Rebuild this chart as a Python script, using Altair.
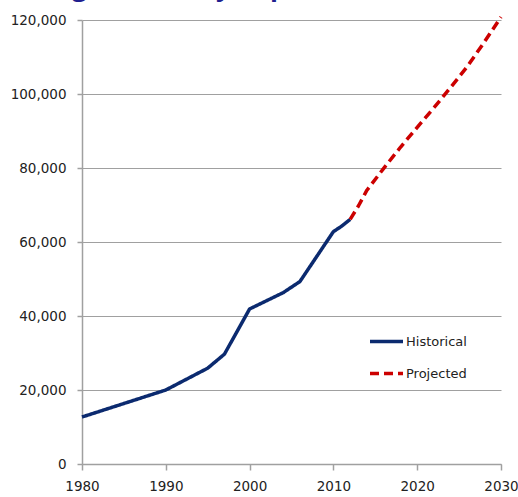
import altair as alt
import pandas as pd

# Historical series
hist_years = [1980, 1990, 1995, 1997, 2000, 2004, 2006, 2010, 2011, 2012]
hist_vals = [12700, 20000, 25900, 29700, 41900, 46300, 49300, 62800, 64300, 66100]

# Projected series
proj_years = [2012, 2013, 2014, 2016, 2018, 2020, 2022, 2024, 2026, 2028, 2030]
proj_vals = [66100, 69800, 74000, 79900, 85600, 91000, 96300, 101800, 107500, 114000, 120800]

series_names = ["Historical", "Projected"]
series_colors = ["#0b2a6f", "#cc0000"]

x_ticks = [1980, 1990, 2000, 2010, 2020, 2030]
y_ticks = [0, 20000, 40000, 60000, 80000, 100000, 120000]

title_text = "Washington County Population, 1980-2030"

df = pd.concat([
    pd.DataFrame({"year": hist_years, "value": hist_vals, "series": "Historical"}),
    pd.DataFrame({"year": proj_years, "value": proj_vals, "series": "Projected"}),
])

FONT = "DejaVu Sans"
AXIS_GRAY = "#a0a0a0"

lines = alt.Chart(df).mark_line(strokeWidth=3.5, strokeCap="butt", strokeJoin="round").encode(
    x=alt.X("year:Q", scale=alt.Scale(domain=[1980, 2030], nice=False, zero=False),
            axis=alt.Axis(values=x_ticks, format="d", title=None, grid=False,
                          tickSize=6, labelPadding=9, labelFlush=False)),
    y=alt.Y("value:Q", scale=alt.Scale(domain=[0, 120000], nice=False),
            axis=alt.Axis(values=y_ticks, format=",.0f", title=None, grid=True,
                          tickSize=5, labelPadding=11, labelFlush=False)),
    color=alt.Color("series:N", scale=alt.Scale(domain=series_names, range=series_colors),
                    legend=alt.Legend(title=None, orient="none", legendX=286, legendY=303,
                                      symbolType="stroke", symbolSize=1089,
                                      symbolStrokeWidth=3.5, labelFont=FONT,
                                      labelFontSize=13, labelColor="#222222",
                                      labelOffset=1, rowPadding=6, padding=0)),
    strokeDash=alt.StrokeDash("series:N",
                              scale=alt.Scale(domain=series_names, range=[[1, 0], [9, 5]]),
                              legend=None),
    detail="series:N",
)

title = alt.Chart(pd.DataFrame({"t": [title_text]})).mark_text(
    font="Open Sans", fontSize=26, fontWeight="bold", color="#1f1f8f",
    align="left", baseline="alphabetic"
).encode(text="t:N", x=alt.value(-106), y=alt.value(-24.5))

chart = alt.layer(lines, title).properties(
    width=419, height=444,
    autosize=alt.AutoSizeParams(type="none"),
    padding={"left": 82, "top": 20, "right": 17, "bottom": 33},
).configure_view(stroke=None).configure_axis(
    labelFont=FONT, labelFontSize=13.5, labelColor="#222222",
    domainColor=AXIS_GRAY, domainWidth=1.5, tickColor=AXIS_GRAY, tickWidth=1.5,
    gridColor=AXIS_GRAY, gridWidth=1, gridOpacity=1,
)

chart.save("out.html", embed_options={"renderer": "svg", "actions": False})
